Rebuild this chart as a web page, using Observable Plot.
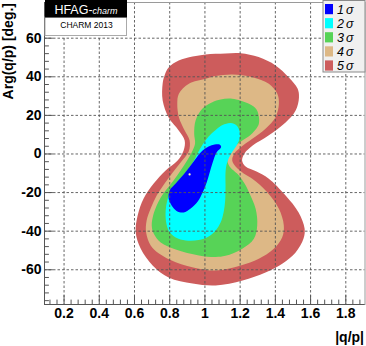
<!DOCTYPE html>
<html><head><meta charset="utf-8">
<script src="https://cdn.jsdelivr.net/npm/d3@7"></script>
<script src="https://cdn.jsdelivr.net/npm/@observablehq/plot@0.6"></script>
<style>
body{margin:0;background:#fff}
#chart{width:366px;height:346px;}
</style>
</head><body><div id="chart"></div>
<script>
// ---- data ----
const levelNumbers = ["1", "2", "3", "4", "5"];
const levelColors = ["#0000ff", "#00ffff", "#57d357", "#ddb886", "#cd5c5c"];

// contour boundaries: [ |q/p| , Arg(q/p) deg ]
const sigma5 = [[0.760,27.7],[0.760,36.5],[0.771,40.7],[0.794,44.8],[0.851,48.4],[0.930,50.5],[1.004,51.6],[1.117,52.1],[1.203,52.2],[1.305,50.2],[1.401,45.9],[1.475,39.8],[1.526,33.9],[1.534,29.3],[1.515,22.5],[1.458,16.3],[1.361,9.6],[1.271,4.4],[1.225,0.3],[1.211,-3.4],[1.231,-6.5],[1.293,-9.1],[1.361,-12.7],[1.458,-21.5],[1.532,-30.3],[1.566,-38.6],[1.560,-43.8],[1.515,-51.0],[1.441,-56.7],[1.344,-61.4],[1.214,-65.5],[1.061,-68.1],[0.930,-67.1],[0.794,-64.0],[0.703,-57.8],[0.635,-49.0],[0.607,-40.7],[0.618,-31.9],[0.652,-23.1],[0.709,-15.3],[0.777,-8.5],[0.845,-3.4],[0.879,1.8],[0.885,7.0],[0.851,12.2],[0.794,18.9]];
const sigma4 = [[0.843,26.0],[0.852,31.2],[0.909,36.4],[1.004,39.0],[1.061,40.4],[1.155,41.2],[1.269,39.8],[1.363,36.4],[1.411,31.2],[1.420,26.0],[1.401,19.1],[1.344,13.1],[1.269,7.9],[1.203,3.5],[1.166,0.1],[1.155,-3.4],[1.174,-6.5],[1.220,-10.1],[1.269,-12.8],[1.354,-19.8],[1.420,-28.4],[1.448,-37.0],[1.439,-43.1],[1.391,-49.1],[1.306,-54.3],[1.203,-57.8],[1.061,-60.4],[0.966,-59.5],[0.834,-56.1],[0.739,-51.6],[0.692,-47.4],[0.666,-40.7],[0.669,-34.5],[0.692,-28.2],[0.726,-21.5],[0.771,-15.3],[0.817,-9.6],[0.862,-4.4],[0.908,1.3],[0.913,7.0],[0.885,12.2],[0.852,19.1]];
const sigma3 = [[0.947,17.4],[0.985,23.4],[1.042,26.8],[1.089,28.2],[1.155,28.6],[1.250,26.0],[1.293,23.1],[1.306,19.4],[1.306,15.6],[1.288,12.7],[1.248,9.1],[1.212,7.0],[1.165,3.5],[1.136,0.1],[1.127,-3.4],[1.140,-6.5],[1.169,-9.1],[1.193,-11.1],[1.225,-15.3],[1.250,-19.8],[1.288,-28.4],[1.297,-37.0],[1.278,-43.9],[1.212,-49.1],[1.117,-52.8],[1.061,-53.4],[0.966,-52.6],[0.834,-49.5],[0.749,-45.9],[0.709,-41.2],[0.698,-37.0],[0.706,-31.9],[0.726,-26.7],[0.749,-22.5],[0.777,-18.9],[0.822,-13.7],[0.862,-8.5],[0.899,-3.4],[0.930,1.8],[0.944,5.4],[0.939,10.6]];
const sigma2 = [[1.061,12.4],[1.100,15.0],[1.146,16.1],[1.180,14.8],[1.197,11.7],[1.197,8.0],[1.180,4.4],[1.157,1.3],[1.137,-1.8],[1.123,-5.4],[1.117,-9.6],[1.117,-16.3],[1.115,-24.1],[1.106,-30.3],[1.089,-35.5],[1.061,-39.6],[1.021,-42.7],[0.964,-44.6],[0.891,-44.8],[0.834,-43.3],[0.797,-40.2],[0.780,-35.5],[0.777,-29.3],[0.786,-24.1],[0.805,-18.9],[0.851,-13.7],[0.900,-8.5],[0.938,-3.4],[0.961,0.8],[0.987,4.9],[1.021,9.1]];
const sigma1 = [[1.055,4.9],[1.083,4.9],[1.092,3.6],[1.066,0.8],[1.044,-4.4],[1.027,-9.6],[1.010,-14.8],[0.987,-19.9],[0.959,-24.6],[0.919,-28.2],[0.879,-30.3],[0.839,-29.5],[0.811,-26.7],[0.794,-23.1],[0.800,-18.9],[0.834,-15.3],[0.879,-10.6],[0.919,-6.0],[0.953,-1.8],[0.987,1.8],[1.021,3.9]];
const bestFit = [[0.913, -10.6]];

const xTicks = [0.2, 0.4, 0.6, 0.8, 1, 1.2, 1.4, 1.6, 1.8];
const yTicks = [-60, -40, -20, 0, 20, 40, 60];
const xMinorTicks = [0.12,0.16,0.24,0.28,0.32,0.36,0.44,0.48,0.52,0.56,0.64,0.68,0.72,0.76,0.84,0.88,0.92,0.96,1.04,1.08,1.12,1.16,1.24,1.28,1.32,1.36,1.44,1.48,1.52,1.56,1.64,1.68,1.72,1.76,1.84,1.88];
const yMinorTicks = [-76,-72,-68,-64,-56,-52,-48,-44,-36,-32,-28,-24,-16,-12,-8,-4,4,8,12,16,24,28,32,36,44,48,52,56,64,68,72,76];
const xDomain = [0.089, 1.909];
const yDomain = [-78, 78.5];

const xLabel = "|q/p|";
const yLabel = "Arg(q/p) [deg.]";
const badgeTitle = "HFAG-";
const badgeTitleItalic = "charm";
const badgeSub = "CHARM 2013";

// ---- drawing ----
const contours = [sigma5, sigma4, sigma3, sigma2, sigma1];
const tickShape = {draw(context, l) { context.moveTo(0, 0); context.lineTo(0, -l); }};
const axisColor = "#555";

const contourMarks = contours.map((c, i) => Plot.line(c, {
  x: d => d[0], y: d => d[1],
  fill: levelColors[4 - i], stroke: "none",
  curve: "catmull-rom-closed"
}));

const plot = Plot.plot({
  width: 366, height: 346,
  marginLeft: 44, marginRight: 1.5, marginTop: 2, marginBottom: 42,
  x: {domain: xDomain},
  y: {domain: yDomain},
  style: {fontFamily: "'Liberation Sans', Arial, sans-serif", fontSize: "14px", fontWeight: "bold", background: "#fff", color: "#000"},
  marks: [
    ...contourMarks,
    Plot.dot(bestFit, {x: d => d[0], y: d => d[1], r: 1.1, fill: "#ffffb0", stroke: "none"}),
    Plot.ruleX(xTicks, {stroke: "#555", strokeWidth: 0.9, strokeDasharray: "2.5,2"}),
    Plot.ruleY(yTicks, {stroke: "#555", strokeWidth: 0.9, strokeDasharray: "2.5,2"}),
    Plot.frame({stroke: "#9a9a9a"}),
    Plot.ruleY([yDomain[0]], {stroke: axisColor}),
    Plot.ruleX([xDomain[0]], {stroke: axisColor}),
    Plot.vector(xTicks, {x: d => d, y: yDomain[0], length: 9, rotate: 0, anchor: "start", shape: tickShape, stroke: axisColor, strokeWidth: 1}),
    Plot.vector(xMinorTicks, {x: d => d, y: yDomain[0], length: 4.5, rotate: 0, anchor: "start", shape: tickShape, stroke: axisColor, strokeWidth: 1}),
    Plot.vector(yTicks, {x: xDomain[0], y: d => d, length: 8, rotate: 90, anchor: "start", shape: tickShape, stroke: axisColor, strokeWidth: 1}),
    Plot.vector(yMinorTicks, {x: xDomain[0], y: d => d, length: 4, rotate: 90, anchor: "start", shape: tickShape, stroke: axisColor, strokeWidth: 1}),
    Plot.axisX(xTicks, {tickSize: 0, tickPadding: 4, label: null, tickFormat: d => String(d)}),
    Plot.axisY(yTicks, {tickSize: 0, tickPadding: 3, label: null, tickFormat: d => String(d)})
  ]
});

document.getElementById("chart").appendChild(plot);
const svg = d3.select(plot);
const font = "'Liberation Sans', Arial, sans-serif";

// axis titles
svg.append("text").attr("transform", "translate(13,3) rotate(-90)")
  .attr("text-anchor", "end").attr("font-family", font).attr("font-size", 14)
  .attr("font-weight", "bold").attr("fill", "#000").text(yLabel);
svg.append("text").attr("x", 364).attr("y", 342)
  .attr("text-anchor", "end").attr("font-family", font).attr("font-size", 14)
  .attr("font-weight", "bold").attr("fill", "#000").text(xLabel);

// HFAG badge
const badge = svg.append("g");
badge.append("rect").attr("x", 45).attr("y", 17).attr("width", 81.5).attr("height", 18.5)
  .attr("fill", "#fff").attr("stroke", "#aaa").attr("stroke-width", 1);
badge.append("rect").attr("x", 45).attr("y", 0).attr("width", 82).attr("height", 17.5).attr("fill", "#000");
const bt = badge.append("text").attr("x", 86).attr("y", 13.5).attr("text-anchor", "middle")
  .attr("font-family", font).attr("font-weight", "normal").attr("fill", "#fff");
bt.append("tspan").attr("font-size", 12.5).text(badgeTitle);
bt.append("tspan").attr("font-size", 9).attr("font-style", "italic").text(badgeTitleItalic);
badge.append("text").attr("x", 86.5).attr("y", 27.8).attr("text-anchor", "middle")
  .attr("font-family", font).attr("font-weight", "normal").attr("font-size", 8.5)
  .attr("fill", "#000").text(badgeSub);

// legend
const leg = svg.append("g");
leg.append("rect").attr("x", 323).attr("y", 0.5).attr("width", 42).attr("height", 71.5)
  .attr("fill", "#f0f0f0").attr("stroke", "#8a8a8a").attr("stroke-width", 1);
levelNumbers.forEach((n, i) => {
  const y0 = 4 + i * 14.1;
  leg.append("rect").attr("x", 325).attr("y", y0).attr("width", 8).attr("height", 10.2)
    .attr("fill", levelColors[i]);
  const t = leg.append("text").attr("x", 337).attr("y", y0 + 10).attr("text-anchor", "start")
    .attr("font-family", font).attr("font-size", 12.5).attr("font-weight", "normal")
    .attr("font-style", "italic").attr("fill", "#000");
  t.append("tspan").text(n);
  t.append("tspan").attr("dx", 2).text("σ");
});
</script>
</body></html>
